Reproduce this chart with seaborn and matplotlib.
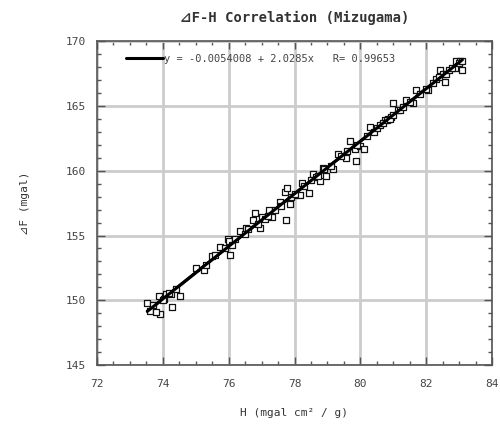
import matplotlib
matplotlib.use("Agg")
import matplotlib.pyplot as plt
import seaborn as sns
import numpy as np
import pandas as pd
from matplotlib.ticker import MultipleLocator

# ---- data ----
h_values = [73.53, 73.60, 73.87, 73.90, 73.80, 74.11, 74.29, 74.51, 74.26, 74.05,
            75.02, 75.24, 75.50, 75.73, 75.98, 76.05, 76.02, 76.35, 76.54, 76.74,
            76.79, 76.94, 77.02, 77.23, 77.33, 77.55, 77.72, 77.78, 77.75, 77.85,
            78.01, 78.16, 78.24, 78.44, 78.56, 78.66, 78.76, 78.86, 78.97, 79.17,
            79.32, 79.57, 79.68, 79.83, 79.88, 79.98, 80.10, 80.28, 80.41, 80.74,
            80.84, 80.94, 80.99, 81.14, 81.40, 81.60, 81.68, 82.06, 82.31, 82.41,
            82.51, 82.56, 82.92, 83.02, 82.97, 83.10, 82.88,
            73.70, 74.00, 74.20, 74.40, 75.30, 75.60, 75.90, 76.10, 76.20, 76.50,
            76.60, 76.90, 77.10, 77.20, 77.40, 77.60, 77.90, 78.00, 78.30, 78.50,
            78.70, 78.90, 79.10, 79.40, 79.60, 79.90, 80.20, 80.50, 80.60, 80.70,
            80.80, 80.90, 81.00, 81.20, 81.30, 81.50, 81.80, 82.00, 82.20, 82.40,
            82.60, 82.70, 82.80, 83.00, 83.10]
dF_values = [149.77, 149.16, 150.33, 148.91, 149.09, 150.48, 149.47, 150.36, 150.48, 150.10,
             152.51, 152.31, 153.40, 154.11, 154.75, 153.53, 154.55, 155.36, 155.56, 156.19,
             156.70, 155.56, 156.45, 156.95, 156.45, 157.59, 158.35, 158.65, 156.19, 157.46,
             158.10, 158.15, 159.06, 158.27, 159.75, 159.49, 159.24, 160.25, 159.62, 160.13,
             161.27, 161.02, 162.28, 161.65, 160.76, 161.90, 161.70, 163.35, 162.97, 163.88,
             163.98, 164.14, 165.20, 164.70, 165.46, 165.20, 166.22, 166.27, 167.11, 167.74,
             167.44, 166.85, 168.45, 168.45, 168.05, 167.79, 167.90,
             149.60, 150.00, 150.60, 150.90, 152.70, 153.50, 154.00, 154.30, 154.70, 155.10,
             155.50, 155.90, 156.30, 156.50, 157.00, 157.30, 158.00, 158.20, 158.80, 159.30,
             159.60, 160.10, 160.40, 161.10, 161.50, 162.00, 162.70, 163.30, 163.50, 163.70,
             163.90, 164.00, 164.30, 164.70, 164.90, 165.30, 165.90, 166.30, 166.80, 167.20,
             167.50, 167.80, 167.90, 168.30, 168.50]

fit_intercept = -0.0054008
fit_slope = 2.0285
fit_r = 0.99653

x_ticks = [72, 74, 76, 78, 80, 82, 84]
y_ticks = [145, 150, 155, 160, 165, 170]

title_text = "⊿F-H Correlation (Mizugama)"
x_label = "H (mgal cm² / g)"
y_label = "⊿F (mgal)"
legend_label = "y = -0.0054008 + 2.0285x   R= 0.99653"

# ---- plotting ----
sns.set_theme(style="white")
plt.rcParams['font.family'] = ['DejaVu Sans Mono', 'DejaVu Sans', 'Noto Sans CJK JP']

df = pd.DataFrame({"H": h_values, "dF": dF_values})
x_line = np.array([min(h_values), max(h_values)])
line_df = pd.DataFrame({"H": x_line, "dF": fit_intercept + fit_slope * x_line})

fig = plt.figure(figsize=(5.0, 4.29), dpi=100)
ax = fig.add_axes([0.194, 0.149, 0.79, 0.755])

ax.grid(True, which="major", color="#cccccc", linewidth=2.0, zorder=0)
ax.set_axisbelow(True)

sns.lineplot(data=line_df, x="H", y="dF", ax=ax, color="black", linewidth=2.2,
             label=legend_label, zorder=2)
sns.scatterplot(data=df, x="H", y="dF", ax=ax, marker="s", s=20,
                facecolor="white", edgecolor="#111111", linewidth=0.9, zorder=3,
                legend=False)
# redraw line over markers
sns.lineplot(data=line_df, x="H", y="dF", ax=ax, color="black", linewidth=2.2,
             zorder=4, legend=False)

ax.set_xlim(72, 84)
ax.set_ylim(145, 170)
ax.set_xticks(x_ticks)
ax.set_yticks(y_ticks)
ax.xaxis.set_minor_locator(MultipleLocator(0.5))
ax.yaxis.set_minor_locator(MultipleLocator(1))
ax.tick_params(which="both", direction="in", top=True, right=True,
               bottom=True, left=True, colors="#555555", labelcolor="#444444",
               labelsize=8)
ax.tick_params(which="major", length=6, width=1.0)
ax.tick_params(axis="x", which="major", pad=10)
ax.tick_params(axis="y", which="major", pad=8)
ax.tick_params(which="minor", length=3, width=1.0)
for sp in ax.spines.values():
    sp.set_color("#555555")
    sp.set_linewidth(1.2)

ax.set_xlabel(x_label, fontsize=8, color="#333333", labelpad=14)
ax.set_ylabel(y_label, fontsize=8, color="#333333", labelpad=26)
ax.set_title(title_text, fontsize=10, fontweight="bold", color="#333333", pad=14)

leg = ax.legend(loc="upper left", bbox_to_anchor=(0.05, 0.99), frameon=False,
                fontsize=7.5, handlelength=3.5, handletextpad=0.1)
for t in leg.get_texts():
    t.set_color("#444444")

fig.savefig("out.png", dpi=100, facecolor="white")
